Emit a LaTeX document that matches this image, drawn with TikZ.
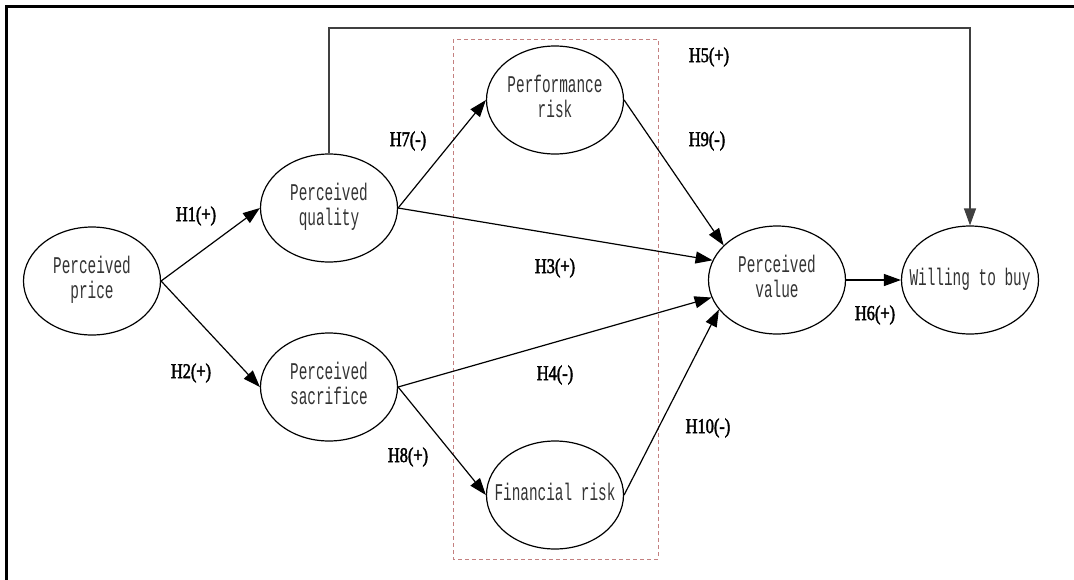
\documentclass[tikz,border=0pt]{standalone}
\usepackage{fontspec}
\usetikzlibrary{shapes.geometric,arrows.meta}
\newfontfamily\nodefont[FakeStretch=0.6]{Liberation Mono}
\newfontfamily\labfont[FakeStretch=0.78,FakeBold=2]{Liberation Serif}
\newcommand{\nt}[1]{\makebox[0pt]{\begin{tabular}{@{}c@{}}#1\end{tabular}}}
\definecolor{boxred}{RGB}{196,128,128}
\begin{document}
\begin{tikzpicture}[x=1pt,y=-1pt,
 ell/.style={ellipse,draw,line width=1.2pt,minimum width=137pt,minimum height=108pt,inner sep=0pt,font=\nodefont\fontsize{24}{25}\selectfont,text=black!80},
 lab/.style={font=\labfont\fontsize{21}{25}\selectfont,inner sep=0pt},
 conn/.style={line width=1.2pt,-{Triangle[length=17pt,width=12pt]}},
 dashbox/.style={draw=boxred,dash pattern=on 4pt off 3pt,line width=1pt},
 frame/.style={line width=3pt}]
\useasboundingbox (0,0) rectangle (1074,579);
% frame
\coordinate (f1) at (6,580);
\coordinate (f2) at (6,6);
\coordinate (f3) at (1075,6);
\draw[frame] (f1) -- (f2) -- (f3);
% dashed group box
\draw[dashbox] (453,39) rectangle (658,559);
% nodes
\node[ell] (pp) at (92,281) {\nt{Perceived\\price}};
\node[ell] (pq) at (329,208) {\nt{Perceived\\quality}};
\node[ell] (ps) at (329,387) {\nt{Perceived\\sacrifice}};
\node[ell] (pr) at (555,100) {\nt{Performance\\risk}};
\node[ell] (fr) at (555,495) {\nt{Financial risk}};
\node[ell] (pv) at (777,280) {\nt{Perceived\\value}};
\node[ell] (wb) at (970,280) {\nt{Willing to buy}};
% corners of H5 path
\coordinate (c1) at (329,28);
\coordinate (c2) at (970,28);
% connectors
\draw[conn] (pp.east) -- (pq.west);
\draw[conn] (pp.east) -- (ps.west);
\draw[conn] (pq.east) -- (pr.west);
\draw[conn] (pq.east) -- (pv.163);
\draw[conn] (ps.east) -- (pv.195);
\draw[conn] (ps.east) -- (fr.west);
\draw[conn] (pr.east) -- (pv.147);
\draw[conn] (fr.east) -- (pv.207);
\draw[conn] (pv.east) -- (wb.west);
\draw[conn,draw=black!75] (pq.north) -- (c1) -- (c2) -- (wb.north);
% labels
\node[lab] (h1) at (196,216) {H1(+)};
\node[lab] (h2) at (191,373) {H2(+)};
\node[lab] (h7) at (408,141) {H7(-)};
\node[lab] (h5) at (709,57) {H5(+)};
\node[lab] (h9) at (707,141) {H9(-)};
\node[lab] (h3) at (555,268) {H3(+)};
\node[lab] (h4) at (555,375) {H4(-)};
\node[lab] (h8) at (408,457) {H8(+)};
\node[lab] (h10) at (708,428) {H10(-)};
\node[lab] (h6) at (875,315) {H6(+)};
\end{tikzpicture}
\end{document}
